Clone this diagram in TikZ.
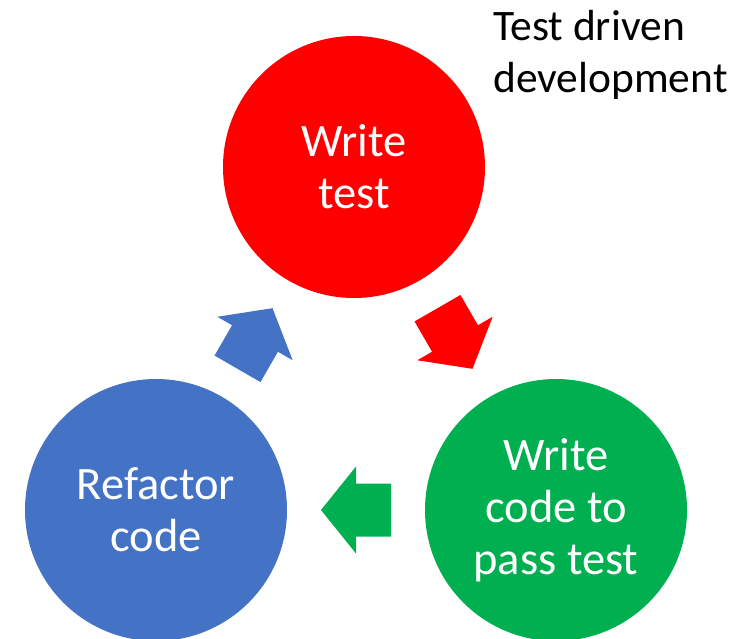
\documentclass[tikz,border=0pt]{standalone}
\usepackage{fontspec}
\setmainfont{Carlito}
\usetikzlibrary{calc}
\definecolor{tddred}{HTML}{FF0000}
\definecolor{tddgreen}{HTML}{00B050}
\definecolor{tddblue}{HTML}{4472C4}
\tikzset{
  stage/.style={circle, fill=#1, minimum size=262pt, inner sep=0pt, text=white,
    align=center, font=\fontsize{46.5}{52}\selectfont},
  pics/blockarrow/.style={code={
    \fill[#1] (-35,-26.5) -- (0,-26.5) -- (0,-43.5) -- (35,0) -- (0,43.5)
      -- (0,26.5) -- (-35,26.5) -- cycle;}}
}
\begin{document}
\begin{tikzpicture}[x=1pt,y=-1pt]
\useasboundingbox (0,0) rectangle (746,638);
\node[stage=tddred] (wt) at (354,167) {Write\\test};
\node[stage=tddgreen] (wc) at (556,510) {Write\\code to\\pass test};
\node[stage=tddblue] (rc) at (156,510) {Refactor\\code};
\node[anchor=base west, inner sep=0pt, align=left, font=\fontsize{43.5}{52}\selectfont] (title) at (493,92) {Test driven\\development};
\pic[rotate=-60] at ($(wt)!0.5!(wc)$) {blockarrow=tddred};
\pic[rotate=180] at ($(wc)!0.5!(rc)$) {blockarrow=tddgreen};
\pic[rotate=60] at ($(rc)!0.5!(wt)$) {blockarrow=tddblue};
\end{tikzpicture}
\end{document}
